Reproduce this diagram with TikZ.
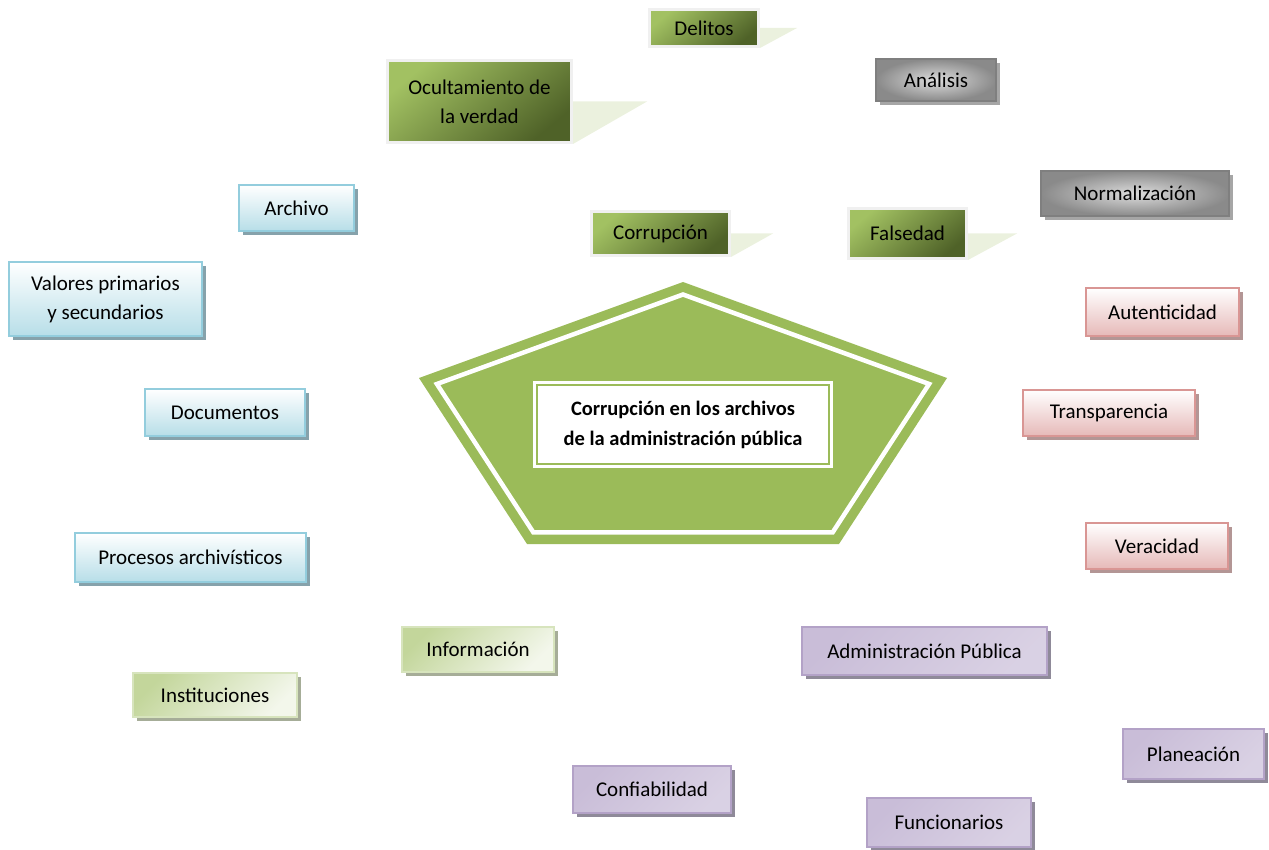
\documentclass[tikz,border=0pt]{standalone}
\usepackage{fontspec}
\setmainfont{Carlito}
\usetikzlibrary{shadows,backgrounds,calc}
\definecolor{pentgreen}{HTML}{9BBB59}
\definecolor{dgA}{HTML}{A2C162}
\definecolor{dgM}{HTML}{7A9840}
\definecolor{dgB}{HTML}{4F6228}
\definecolor{dgBorder}{HTML}{F0F0F0}
\definecolor{calloutfill}{HTML}{EBF1DE}
\definecolor{blueBorder}{HTML}{93CDDD}
\definecolor{blueBot}{HTML}{B7DEE8}
\definecolor{blueShadow}{HTML}{86A2AB}
\definecolor{pinkBorder}{HTML}{D99694}
\definecolor{pinkBot}{HTML}{E6B9B8}
\definecolor{pinkShadow}{HTML}{B39695}
\definecolor{lgBorder}{HTML}{D7E4BD}
\definecolor{lgA}{HTML}{C3D69B}
\definecolor{lgM}{HTML}{EBF1DE}
\definecolor{lgShadow}{HTML}{A6AD98}
\definecolor{puBorder}{HTML}{B3A2C7}
\definecolor{puA}{HTML}{C9BDD8}
\definecolor{puM}{HTML}{E8E4EE}
\definecolor{puShadow}{HTML}{8F8A99}
\definecolor{gyBorder}{HTML}{7F7F7F}
\definecolor{gyShadow}{HTML}{A6A6A6}
\definecolor{gyIn}{HTML}{DCDCDC}
\definecolor{gyOut}{HTML}{8A8A8A}
\tikzset{
  boxbase/.style={rectangle, inner sep=0pt, align=center, text=black,
    font=\fontsize{21}{29}\selectfont},
  sh/.style={drop shadow={shadow xshift=4pt, shadow yshift=-4pt, fill=#1, opacity=1}},
  dkgreen/.style={boxbase, draw=dgBorder, line width=3pt,
    top color=dgA, middle color=dgM, bottom color=dgB, shading angle=40},
  graybox/.style={boxbase, sh=gyShadow, draw=gyBorder, line width=1.5pt,
    inner color=gyIn, outer color=gyOut},
  bluebox/.style={boxbase, sh=blueShadow, draw=blueBorder, line width=2pt,
    top color=white, bottom color=blueBot},
  pinkbox/.style={boxbase, sh=pinkShadow, draw=pinkBorder, line width=2pt,
    top color=white, bottom color=pinkBot},
  lgbox/.style={boxbase, sh=lgShadow, draw=lgBorder, line width=2pt,
    top color=lgA, middle color=lgM, bottom color=lgM!60!white, shading angle=45},
  pubox/.style={boxbase, sh=puShadow, draw=puBorder, line width=2pt,
    top color=puA, middle color=puM, bottom color=puA!70!white, shading angle=45},
  callout/.style={fill=calloutfill},
}
\begin{document}
\begin{tikzpicture}[x=1pt,y=-1pt]
\useasboundingbox (0,0) rectangle (1269,850);

% central pentagon
\fill[pentgreen] (683,282) -- (419,378) -- (527,544) -- (839,544) -- (947,378) -- cycle;
\draw[white, line width=4.5pt, line join=miter] (683,294.5) -- (436.9,384) -- (533.3,532.3) -- (832.7,532.3) -- (929.1,384) -- cycle;
\node[rectangle, fill=white, draw=pentgreen, line width=1.5pt,
  preaction={draw=white, line width=8pt},
  minimum width=292pt, minimum height=79pt, inner sep=0pt, align=center,
  font=\bfseries\fontsize{20.5}{30}\selectfont] (center) at (683,424.5)
  {Corrupción en los archivos\\de la administración pública};

% dark green boxes with callouts
\node[dkgreen, minimum width=109pt, minimum height=37pt] (delitos) at (704,28) {Delitos};
\node[dkgreen, minimum width=184pt, minimum height=82pt] (ocultamiento) at (479.5,101.5) {Ocultamiento de\\la verdad};
\node[dkgreen, minimum width=138pt, minimum height=44pt] (corrupcion) at (660.5,233.5) {Corrupción};
\node[dkgreen, minimum width=118pt, minimum height=50pt] (falsedad) at (907.5,233.5) {Falsedad};
\begin{pgfonlayer}{background}
\fill[callout] (delitos.east) -- ++(37,0) -- (delitos.south east) -- cycle;
\fill[callout] (ocultamiento.east) -- ++(74,0) -- (ocultamiento.south east) -- cycle;
\fill[callout] (corrupcion.east) -- ++(42,0) -- (corrupcion.south east) -- cycle;
\fill[callout] (falsedad.east) -- ++(49,0) -- (falsedad.south east) -- cycle;
\end{pgfonlayer}

% gray boxes
\node[graybox, minimum width=120pt, minimum height=42pt] (analisis) at (936,80) {Análisis};
\node[graybox, minimum width=188pt, minimum height=45pt] (normalizacion) at (1135,193.5) {Normalización};

% blue boxes
\node[bluebox, minimum width=115pt, minimum height=46pt] (archivo) at (296.5,208) {Archivo};
\node[bluebox, minimum width=193pt, minimum height=74pt] (valores) at (105.5,299) {Valores primarios\\y secundarios};
\node[bluebox, minimum width=160pt, minimum height=47pt] (documentos) at (225,412.5) {Documentos};
\node[bluebox, minimum width=231pt, minimum height=49pt] (procesos) at (190.5,557.5) {Procesos archivísticos};

% pink boxes
\node[pinkbox, minimum width=153pt, minimum height=48pt] (autenticidad) at (1162.5,312) {Autenticidad};
\node[pinkbox, minimum width=172pt, minimum height=46pt] (transparencia) at (1109,413) {Transparencia};
\node[pinkbox, minimum width=142pt, minimum height=46pt] (veracidad) at (1157,546) {Veracidad};

% light green boxes
\node[lgbox, minimum width=152pt, minimum height=45pt] (informacion) at (478,649.5) {Información};
\node[lgbox, minimum width=164pt, minimum height=44pt] (instituciones) at (215,695) {Instituciones};

% purple boxes
\node[pubox, minimum width=245pt, minimum height=48pt] (administracion) at (924.5,651) {Administración Pública};
\node[pubox, minimum width=141pt, minimum height=50pt] (planeacion) at (1193.5,754) {Planeación};
\node[pubox, minimum width=158pt, minimum height=47pt] (confiabilidad) at (652,789.5) {Confiabilidad};
\node[pubox, minimum width=164pt, minimum height=49pt] (funcionarios) at (949,822.5) {Funcionarios};
\end{tikzpicture}
\end{document}
